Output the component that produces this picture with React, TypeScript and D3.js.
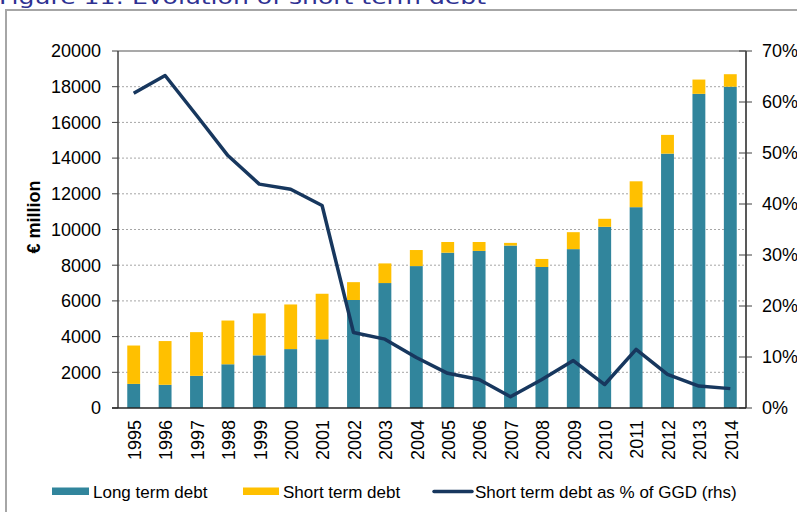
import React from "react";
import * as d3 from "d3";

const years = ["1995","1996","1997","1998","1999","2000","2001","2002","2003","2004","2005","2006","2007","2008","2009","2010","2011","2012","2013","2014"];
const longTerm = [1350,1300,1800,2450,2950,3300,3850,6050,7000,7950,8700,8800,9100,7900,8900,10150,11250,14250,17600,18000];
const totalDebt = [3500,3750,4250,4900,5300,5800,6400,7050,8100,8850,9300,9300,9250,8350,9850,10600,12700,15300,18400,18700];
const shortPct = [61.7,65.2,57.4,49.5,43.9,42.9,39.7,14.8,13.5,9.9,6.8,5.6,2.2,5.6,9.3,4.6,11.5,6.6,4.3,3.8];
const leftTicks = [0,2000,4000,6000,8000,10000,12000,14000,16000,18000,20000];
const rightTicks = [0,10,20,30,40,50,60,70];
const legendLabels = ["Long term debt","Short term debt","Short term debt as % of GGD (rhs)"];
const titleText = "Figure 11: Evolution of short term debt";

const C_LONG = "#31859c";
const C_SHORT = "#ffc000";
const C_LINE = "#17375e";
const FONT = "'Liberation Sans', Arial, sans-serif";

export default function App() {
  const L = 118, R = 746, T = 51, B = 408;
  const x = d3.scaleBand<string>().domain(years).range([L, R]).paddingInner(0.59).paddingOuter(0.295);
  const yL = d3.scaleLinear().domain([0, 20000]).range([B, T]);
  const yR = d3.scaleLinear().domain([0, 70]).range([B, T]);
  const cx = (y: string) => (x(y) as number) + x.bandwidth() / 2;
  const line = d3.line<number>().x((_, i) => cx(years[i])).y((d) => yR(d));

  return (
    <svg width={797} height={512} style={{ position: "absolute", left: 0, top: 0 }} fontFamily={FONT}>
      <rect x={0} y={0} width={797} height={512} fill="#fff" />
      <text x={-1} y={4} fontFamily="'DejaVu Sans', Verdana, sans-serif" fontSize={20} fill="#2e3192" textLength={487} lengthAdjust="spacingAndGlyphs">{titleText}</text>
      <rect x={6} y={10} width={800} height={520} fill="none" stroke="#a6a6a6" strokeWidth={2} />

      {/* gridlines */}
      {leftTicks.filter((t) => t > 0 && t < 20000).map((t) => (
        <line key={t} x1={L} x2={R} y1={yL(t)} y2={yL(t)} stroke="#a6a6a6" strokeWidth={1} strokeDasharray="2,2" />
      ))}
      <line x1={L} x2={R} y1={T} y2={T} stroke="#8c8c8c" strokeWidth={1.5} />

      {/* bars */}
      {years.map((yr, i) => (
        <g key={yr}>
          <rect x={x(yr)} y={yL(longTerm[i])} width={x.bandwidth()} height={B - yL(longTerm[i])} fill={C_LONG} />
          <rect x={x(yr)} y={yL(totalDebt[i])} width={x.bandwidth()} height={yL(longTerm[i]) - yL(totalDebt[i])} fill={C_SHORT} />
        </g>
      ))}

      {/* line */}
      <path d={line(shortPct) || ""} fill="none" stroke={C_LINE} strokeWidth={3.5} strokeLinejoin="round" />

      {/* left axis */}
      <line x1={L} x2={L} y1={T} y2={B} stroke="#404040" strokeWidth={1.5} />
      {leftTicks.map((t) => (
        <g key={t}>
          <line x1={L - 6} x2={L} y1={yL(t)} y2={yL(t)} stroke="#404040" strokeWidth={1} />
          <text x={101} y={yL(t)} dy="0.35em" textAnchor="end" fontSize={18} fill="#000">{t}</text>
        </g>
      ))}
      <text transform={`translate(40,217) rotate(-90)`} textAnchor="middle" fontSize={18} fontWeight="bold" fill="#000">€ million</text>

      {/* right axis */}
      <line x1={R} x2={R} y1={T} y2={B} stroke="#595959" strokeWidth={2} />
      {rightTicks.map((t) => (
        <g key={t}>
          <line x1={R - 7} x2={R + 6} y1={yR(t)} y2={yR(t)} stroke="#404040" strokeWidth={1} />
          <text x={762} y={yR(t)} dy="0.35em" textAnchor="start" fontSize={18} fill="#000">{t}%</text>
        </g>
      ))}

      {/* bottom axis */}
      <line x1={L - 6} x2={R} y1={B} y2={B} stroke="#262626" strokeWidth={1.5} />
      {years.map((yr) => (
        <text key={yr} transform={`translate(${cx(yr) + 1},${B + 12}) rotate(-90)`} textAnchor="end" dy="0.35em" fontSize={18} fill="#000">{yr}</text>
      ))}

      {/* legend */}
      <rect x={52} y={487.5} width={37} height={7.5} fill={C_LONG} />
      <text x={93} y={497.5} fontSize={17} fill="#000">{legendLabels[0]}</text>
      <rect x={243} y={487.5} width={36} height={7.5} fill={C_SHORT} />
      <text x={283} y={497.5} fontSize={17} fill="#000">{legendLabels[1]}</text>
      <line x1={434} x2={472} y1={491.5} y2={491.5} stroke={C_LINE} strokeWidth={3.5} strokeLinecap="round" />
      <text x={475} y={497.5} fontSize={17} fill="#000">{legendLabels[2]}</text>
    </svg>
  );
}
